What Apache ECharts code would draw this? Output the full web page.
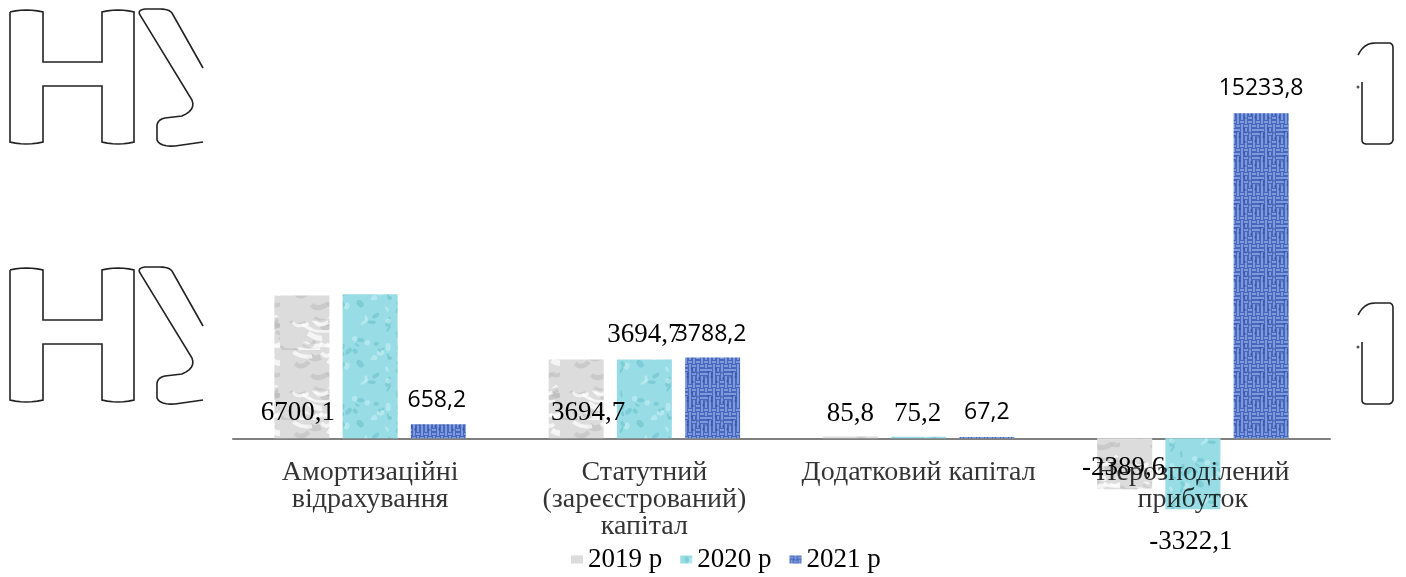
<!DOCTYPE html>
<html>
<head>
<meta charset="utf-8">
<script src="https://cdn.jsdelivr.net/npm/echarts@6/dist/echarts.min.js"></script>
<style>
html,body{margin:0;padding:0;background:#fff;}
#chart{width:1406px;height:577px;}
</style>
</head>
<body>
<div id="chart"></div>
<script>
// ---- data ----
const categories = ['Амортизаційні\nвідрахування', 'Статутний\n(зареєстрований)\nкапітал', 'Додатковий капітал', 'Нерозподілений\nприбуток'];
const seriesNames = ['2019 р', '2020 р', '2021 р'];
const values2019 = [6700.1, 3694.7, 85.8, -2389.6];
const values2020 = [6750, 3694.7, 75.2, -3322.1];
const values2021 = [658.2, 3788.2, 67.2, 15233.8];
const shownLabels = [[true, true, true, true], [false, true, true, true], [true, true, true, true]];

// ---- textures (deterministic) ----
function h(i){ const s = Math.sin(i * 12.9898 + 78.233) * 43758.5453; return s - Math.floor(s); }
function makeGray(){
  const c = document.createElement('canvas'); c.width = 56; c.height = 70;
  const g = c.getContext('2d');
  g.fillStyle = '#dcdcdc'; g.fillRect(0,0,56,70);
  for (let i = 0; i < 26; i++){
    g.strokeStyle = i % 2 ? 'rgba(255,255,255,0.7)' : 'rgba(175,175,175,0.4)';
    g.lineWidth = 2 + h(i*3) * 4;
    const x = h(i) * 56, y = h(i+100) * 70;
    g.beginPath(); g.moveTo(x, y);
    g.quadraticCurveTo(x + 10*h(i+7), y + 6, x + 8 + 14*h(i+9), y + 10*h(i+11) - 5);
    g.stroke();
  }
  return c;
}
function makeCyan(){
  const c = document.createElement('canvas'); c.width = 56; c.height = 60;
  const g = c.getContext('2d');
  g.fillStyle = '#98dde5'; g.fillRect(0,0,56,60);
  for (let i = 0; i < 30; i++){
    g.fillStyle = i % 3 ? 'rgba(100,190,200,0.5)' : 'rgba(200,240,244,0.6)';
    const x = h(i+300) * 56, y = h(i+400) * 60;
    g.beginPath(); g.ellipse(x, y, 1.5 + 3*h(i+500), 1 + 2*h(i+600), h(i)*3, 0, Math.PI*2); g.fill();
  }
  return c;
}
function makeBlue(){
  const c = document.createElement('canvas'); c.width = 24; c.height = 24;
  const g = c.getContext('2d');
  g.fillStyle = '#4468c0'; g.fillRect(0,0,24,24);
  g.strokeStyle = '#a9bdea'; g.lineWidth = 1.2;
  for (let r = 0; r < 6; r++){
    for (let k = 0; k < 6; k++){
      const x = k*4, y = r*4;
      g.beginPath();
      if (h(r*7+k+900) > 0.5){ g.moveTo(x, y+2); g.lineTo(x+4, y+2); }
      else { g.moveTo(x+2, y); g.lineTo(x+2, y+4); }
      g.stroke();
    }
  }
  g.fillStyle = 'rgba(30,50,140,0.35)';
  for (let i = 0; i < 10; i++){ g.fillRect(h(i+1200)*24, h(i+1300)*24, 2, 2); }
  return c;
}
const fills = [
  {image: makeGray(), repeat: 'repeat'},
  {image: makeCyan(), repeat: 'repeat'},
  {image: makeBlue(), repeat: 'repeat'}
];

const serif = 'Liberation Serif';
const sans = 'Open Sans';
// label placement per series, per category
const labelPlacement = [
  [ {p:'insideBottom', o:[-4,-7], f:serif, s:27}, {p:'insideBottom', o:[12,-6.5], f:serif, s:27}, {p:'top', o:[0,-4.5], f:serif, s:27}, {p:'insideTop', o:[-1,11], f:serif, s:27} ],
  [ {p:'top', o:[0,-6], f:serif, s:27}, {p:'top', o:[0,-6.5], f:serif, s:27}, {p:'top', o:[-1,-4.5], f:serif, s:27}, {p:'bottom', o:[-2,14.5], f:serif, s:27} ],
  [ {p:'top', o:[-1.5,-7.5], f:sans, s:23}, {p:'top', o:[-2,-6.5], f:sans, s:23}, {p:'top', o:[0,-7.5], f:sans, s:23}, {p:'top', o:[0,-8.5], f:sans, s:23} ]
];
const allValues = [values2019, values2020, values2021];

function buildData(si){
  return allValues[si].map(function(v, ci){
    const lp = labelPlacement[si][ci];
    return {
      value: v,
      label: {
        show: shownLabels[si][ci],
        position: lp.p,
        offset: lp.o,
        fontFamily: lp.f,
        fontSize: lp.s,
        color: '#000',
        formatter: function(prm){ return String(prm.value).replace('.', ','); }
      }
    };
  });
}

// ---- decorative outline glyphs (scan artefacts), drawn as polylines ----
function toPoints(cmds, dy){
  const pts = []; let cur = null;
  cmds.forEach(function(c){
    if (c[0] === 'M' || c[0] === 'L'){ cur = [c[1], c[2] + dy]; pts.push(cur); }
    else if (c[0] === 'Q'){
      const cx = c[1], cy = c[2] + dy, x = c[3], y = c[4] + dy;
      for (let t = 1; t <= 6; t++){
        const u = t / 6;
        pts.push([(1-u)*(1-u)*cur[0] + 2*(1-u)*u*cx + u*u*x, (1-u)*(1-u)*cur[1] + 2*(1-u)*u*cy + u*u*y]);
      }
      cur = [x, y];
    }
  });
  return pts;
}
const glyphH = [['M',10,12],['L',10,142],['Q',26,146,43,142],['L',43,86],['L',102,86],['L',102,142],['Q',118,146,134,142],
  ['L',134,12],['Q',118,8,102,12],['L',102,62],['L',43,62],['L',43,12],['Q',26,8,10,12]];
const glyphS = [['M',203,68],['L',172,13],['Q',169,9,160,9],['L',145,9],['Q',137,10,140,15],['L',192,100],['Q',196,110,182,116],
  ['L',165,118],['Q',156,120,157,128],['L',157,140],['Q',160,147,175,146],['L',203,142]];
const glyph1 = [['M',1358,55],['Q',1364,43,1375,43],['L',1390,43],['Q',1393,44,1393,48],['L',1393,140],['Q',1392,144,1388,144],
  ['L',1367,144],['Q',1362,144,1362,140],['L',1362,82]];
const outlineStyle = {fill: null, stroke: '#222', lineWidth: 1.6};
const graphics = [];
[0, 258].forEach(function(dy){
  graphics.push({type:'polyline', shape:{points: toPoints(glyphH, dy)}, style: outlineStyle, silent:true});
  graphics.push({type:'polyline', shape:{points: toPoints(glyphS, dy)}, style: outlineStyle, silent:true});
});
[0, 260].forEach(function(dy){
  graphics.push({type:'polyline', shape:{points: toPoints(glyph1, dy)}, style: outlineStyle, silent:true});
  graphics.push({type:'circle', shape:{cx:1358, cy:87+dy, r:1.5}, style:{fill:'#555'}, silent:true});
});

const barSeries = seriesNames.map(function(name, si){
  return {
    name: name,
    type: 'bar',
    barWidth: 55,
    barGap: '24%',
    z: 2,
    itemStyle: {color: fills[si]},
    data: buildData(si)
  };
});
// category names drawn under the zero line, over the bars
const categoryLabelSeries = {
  type: 'scatter',
  symbolSize: 0,
  silent: true,
  z: 10,
  data: categories.map(function(c){ return [c, 0]; }),
  label: {
    show: true, position: 'bottom', distance: 21,
    fontFamily: serif, fontSize: 28, color: '#000', lineHeight: 27, align: 'center',
    formatter: function(p){ return p.value[0]; }
  }
};

const chart = echarts.init(document.getElementById('chart'), null, {renderer: 'canvas'});
chart.setOption({
  animation: false,
  backgroundColor: '#fff',
  graphic: graphics,
  grid: {left: 233, right: 76, top: 97, height: 448, containLabel: false, outerBoundsMode: 'none'},
  legend: {
    data: seriesNames,
    left: 566, top: 541,
    itemWidth: 12, itemHeight: 8, itemGap: 18,
    icon: 'rect',
    textStyle: {fontFamily: serif, fontSize: 27, color: '#000'}
  },
  xAxis: {
    type: 'category',
    data: categories,
    axisLine: {show: true, onZero: true, lineStyle: {color: '#808080', width: 2}},
    axisTick: {show: false},
    axisLabel: {show: false}
  },
  yAxis: {
    type: 'value', min: -5000, max: 16000,
    show: false,
    splitLine: {show: false}
  },
  series: barSeries.concat([categoryLabelSeries])
});
</script>
</body>
</html>
